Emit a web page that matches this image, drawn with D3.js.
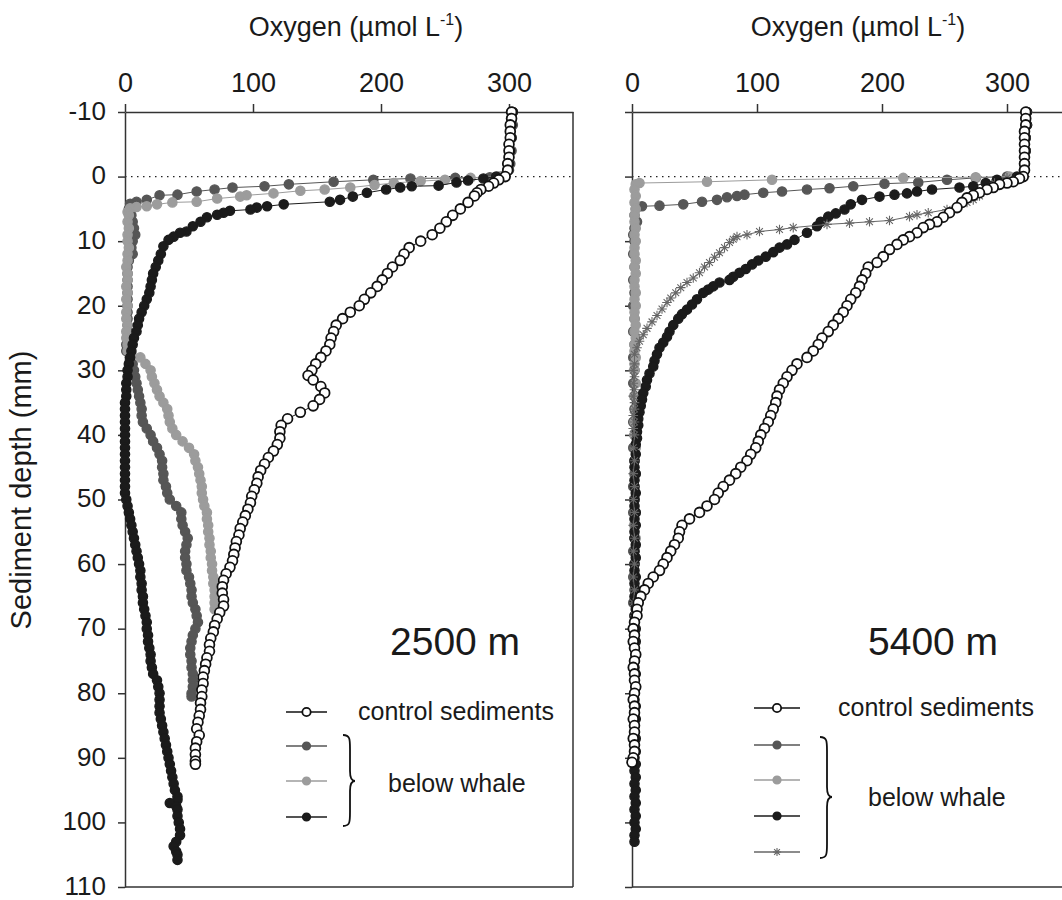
<!DOCTYPE html>
<html>
<head>
<meta charset="utf-8">
<title>Oxygen profiles</title>
<script src="https://d3js.org/d3.v7.min.js"></script>
<style>
  body { margin: 0; background: #fff; }
  text { font-family: "Liberation Sans", Arial, sans-serif; fill: #1a1a1a; }
</style>
</head>
<body>
<svg width="1062" height="900"></svg>
<script>

// [depth mm, oxygen umol/L]
var leftControl = [[-10,302],[-9,302],[-8,301],[-7,301],[-6,301],[-5,300],[-4,300],[-3,300],[-2,299],[-1,299],[0,297],[0.5,292],[1,288],[1.5,284],[2,278],[2.5,275],[3,273],[4,268],[5,262],[6,256],[7,251],[8,246],[9,240],[10,231],[11,222],[12,218],[13,215],[14,209],[15,205],[16,201],[17,197],[18,192],[19,187],[20,183],[21,176],[22,170],[23,165],[24,163],[25,161],[26,160],[27,157],[28,153],[29,149],[30,146],[30.8,143],[31.5,147],[32.5,153],[33.5,156],[34.5,152],[35.5,147],[36.5,137],[37.5,127],[38.5,122],[39.5,121],[40.5,121],[41.5,119],[42.5,116],[43.5,112],[44.5,109],[45.5,106],[46.5,104],[47.5,103],[48.5,101],[49.5,99],[50.5,98],[51.5,96],[52.5,94],[53.5,92],[54.5,90],[55.5,89],[56.5,87],[57.5,86],[58.5,85],[59.5,84],[60.5,82],[61.5,79],[62.5,77],[63.5,76],[64.5,76],[65.5,77],[66.5,77],[67.5,74],[68.5,72],[69.5,70],[70.5,69],[71.5,67],[72.5,66],[73.5,66],[74.5,64],[75.5,63],[76.5,62],[77.5,61],[78.5,61],[79.5,60],[80.5,60],[81.5,59],[82.5,59],[83.5,58],[84.5,57],[85.5,56],[86.5,58],[87.5,56],[88.5,55],[89.5,55],[90.5,55],[91,55]];

var leftWhale1 = [[-10,303],[-8,303],[-6,302],[-4,302],[-2,301],[-1,300],[0,294],[0.1,285],[0.2,258],[0.3,223],[0.5,194],[0.8,163],[1.2,128],[1.5,109],[1.7,84],[2,70],[2.3,56],[2.8,41],[2.9,27],[3.6,17],[3.9,9],[4.2,4],[5,3],[6,5],[7,6],[8,7],[9,8],[10,6],[11,5],[12,6],[13,3],[14,2],[15,2],[16,2],[17,2],[18,2],[19,2],[20,2],[21,2],[22,2],[23,2],[24,2],[25,2],[26,1],[27,1],[28,4],[29,6],[30,7],[31,8],[32,9],[33,10],[34,11],[35,12],[36,13],[37,13],[38,14],[39,17],[40,20],[41,22],[42,25],[43,27],[44,29],[45,29],[46,30],[47,30],[48,32],[49,33],[50,35],[51,40],[52,44],[53,44],[54,45],[55,47],[56,49],[57,48],[58,47],[59,47],[60,48],[61,48],[62,50],[63,51],[64,52],[65,52],[66,53],[67,55],[68,56],[69,57],[70,55],[71,53],[72,52],[73,51],[74,51],[75,52],[76,52],[77,53],[78,53],[79,53],[80,52],[80.5,52]];

var leftWhale2 = [[-10,303],[-8,302],[-6,302],[-4,301],[-2,300],[-1,299],[0,292],[0.2,270],[0.5,250],[0.7,231],[1,210],[1.3,195],[1.7,176],[2,156],[2.2,137],[2.6,116],[2.9,95],[3.1,90],[3.4,72],[3.9,56],[4,37],[4.3,25],[4.6,17],[4.7,9],[4.9,4],[5.5,2],[6,3],[7,2],[8,3],[9,2],[10,2],[11,3],[12,2],[13,2],[14,1],[15,2],[16,2],[17,1],[18,2],[19,1],[20,2],[21,1],[22,1],[23,2],[24,1],[25,1],[26,2],[27,2],[27.5,5],[28,12],[29,16],[30,20],[31,21],[32,23],[33,25],[34,27],[35,30],[36,33],[37,34],[38,35],[39,37],[40,40],[41,45],[42,50],[43,54],[44,55],[45,57],[46,58],[47,59],[48,60],[49,60],[50,61],[51,62],[52,64],[53,64],[54,65],[55,65],[56,66],[57,66],[58,67],[59,67],[60,68],[61,68],[62,69],[63,69],[64,70],[65,70],[66,70],[67,70]];

var leftWhale3 = [[-10,303],[-8,302],[-6,302],[-4,301],[-2,300],[-1,299],[0,290],[0.3,280],[0.6,268],[0.9,259],[1.4,245],[1.5,224],[1.7,215],[2,204],[2.5,189],[3.1,178],[3.6,168],[3.9,160],[4.3,124],[4.6,111],[4.8,103],[5.1,98],[5.3,82],[5.6,77],[5.9,72],[6.3,64],[7,59],[7.7,53],[8.5,48],[8.7,43],[9.3,38],[9.8,34],[10.8,30],[12,28],[13,26],[14,24],[15,22],[16,21],[17,20],[18,19],[19,17],[20,15],[21,13],[22,11],[23,10],[24,9],[25,7],[26,6],[27,5],[28,4],[29,3],[30,2],[31,2],[32,1],[33,1],[34,1],[35,0],[36,0],[37,0],[38,0],[39,0],[40,0],[41,0],[42,0],[43,0],[44,0],[45,0],[46,0],[47,0],[48,0],[49,0],[50,1],[51,2],[52,3],[53,4],[54,5],[55,6],[56,7],[57,8],[58,9],[59,10],[60,11],[61,12],[62,12],[63,13],[64,13],[65,14],[66,14],[67,15],[68,16],[69,17],[70,17],[71,18],[72,18],[73,19],[74,20],[75,20],[76,21],[77,22],[78,25],[79,26],[80,27],[81,27],[82,27],[83,27],[84,28],[85,29],[86,30],[87,31],[88,32],[89,33],[90,34],[91,35],[92,36],[93,37],[94,38],[95,39],[96,41],[96.5,41],[97,35],[97.5,40],[98,41],[99,41],[100,42],[101,43],[102,43],[103,40],[103.7,38],[104.5,40],[105,41],[105.8,41]];

var rightControl = [[-10,315],[-9,315],[-8,315],[-7,314],[-6,314],[-5,314],[-4,314],[-3,314],[-2,314],[-1,314],[0,313],[0.3,310],[0.8,305],[1,300],[1.2,294],[1.7,289],[2,284],[2.5,278],[2.9,273],[3.3,268],[4,264],[4.8,260],[5.6,254],[6.3,249],[7,244],[7.4,238],[7.9,233],[8.7,228],[9.3,222],[9.8,217],[10.5,212],[11.3,206],[12.4,201],[13.3,196],[14,189],[15,187],[16,184],[17,182],[18,179],[19,175],[20,172],[21,169],[22,165],[23,161],[24,157],[25,152],[26,149],[27,145],[28,140],[29,132],[30,128],[31,124],[32,121],[33,118],[34,116],[35,115],[36,113],[37,111],[38,109],[39,106],[40,103],[41,101],[42,99],[43,95],[44,92],[45,87],[46,83],[47,78],[48,73],[49,69],[50,66],[51,60],[52,54],[53,46],[54,40],[55,38],[56,37],[57,34],[58,31],[59,28],[60,25],[61,22],[62,17],[63,13],[64,10],[65,7],[66,5],[67,4],[68,4],[69,2],[70,1],[71,2],[72,1],[73,2],[74,3],[75,2],[76,1],[77,2],[78,2],[79,3],[80,2],[81,1],[82,2],[83,2],[84,1],[85,2],[86,2],[87,1],[88,2],[89,2],[90,1],[90.7,0]];

var rightWhale1 = [[-10,316],[-8,316],[-6,315],[-4,315],[-2,314],[-1,314],[0,300],[0.2,275],[0.5,252],[0.9,229],[1.1,202],[1.5,177],[1.8,158],[2,140],[2.3,120],[2.5,105],[2.8,90],[3,84],[3.2,76],[3.6,68],[3.9,56],[4.3,41],[4.5,22],[4.6,8],[5,3],[6,2],[7,4],[8,2],[9,1],[10,2],[12,1],[14,2],[16,1],[18,2],[20,1],[22,2],[24,1],[26,2],[28,1],[30,2],[32,1],[34,2],[36,2],[38,1],[40,2],[42,1],[44,2],[46,2],[48,1],[50,2],[52,1],[54,2],[56,2],[58,1],[60,2],[62,1],[64,2],[66,1],[68,2],[70,1]];

var rightWhale2 = [[-10,316],[-8,316],[-6,315],[-4,315],[-2,314],[-1,314],[0,302],[0.1,275],[0.2,217],[0.5,112],[0.8,60],[1,6],[1.2,3],[2,2],[3,3],[4,2],[5,3],[6,2],[7,2],[8,3],[9,2],[10,3],[11,2],[12,2],[13,3],[14,2],[15,3],[16,2],[17,2],[18,3],[19,2],[20,3],[21,2],[22,2],[23,3],[24,2],[25,3],[26,2],[27,2],[28,3],[29,2],[30,2],[32,3],[34,2],[36,3],[38,2],[40,2],[42,3],[44,2],[46,3],[48,2],[50,2],[52,3],[54,2],[56,3],[58,2],[60,2]];

var rightWhale3 = [[-10,316],[-8,316],[-6,315],[-4,315],[-2,314],[-1,314],[0,308],[0.5,292],[1,283],[1.5,273],[1.7,262],[2,240],[2.3,228],[2.6,220],[2.8,210],[3.1,198],[3.6,184],[4.3,175],[5.1,170],[5.7,163],[6.2,157],[7,151],[7.7,148],[8.7,140],[9.8,130],[10.5,124],[11,118],[11.7,113],[12.4,107],[13,101],[13.6,96],[14.3,91],[14.9,86],[15.5,81],[16,78],[16.4,70],[17,65],[17.5,61],[18,57],[19,52],[19.8,48],[20.6,44],[21.3,40],[22,37],[23,33],[24,30],[24.8,28],[25.7,25],[26.5,22],[27.5,20],[28.5,18],[29.4,17],[30.5,14],[31.5,12],[32.5,11],[33.5,9],[34.5,8],[35.5,7],[36.5,6],[37.5,5],[38.5,5],[39.5,4],[40.5,4],[41.5,3],[43,3],[44,2],[45,2],[46,3],[47,2],[48,2],[49,3],[50,2],[51,2],[52,3],[53,2],[54,3],[55,2],[56,2],[57,3],[58,2],[59,3],[60,2],[61,2],[62,3],[63,2],[64,3],[65,2],[66,2],[67,3],[68,2],[69,2],[70,3],[71,2],[72,3],[73,2],[74,3],[75,2],[76,2],[77,3],[78,2],[79,3],[80,2],[81,2],[82,3],[83,2],[84,3],[85,2],[86,2],[87,3],[88,2],[89,3],[90,2],[91,3],[92,2],[93,3],[94,2],[95,3],[96,2],[97,3],[98,2],[99,3],[100,2],[101,3],[102,2],[103,2]];

var rightWhale4 = [[-10,316],[-8,316],[-6,315],[-4,315],[-2,314],[-1,313],[0,312],[0.2,300],[1,290],[2,283],[3,278],[3.6,273],[4,268],[4.3,262],[5.1,252],[5.6,237],[5.9,228],[6.2,222],[6.8,206],[7,190],[7.2,174],[7.4,156],[7.9,129],[8.2,118],[8.5,102],[9,92],[9.3,84],[9.7,81],[10.2,78],[11,74],[11.8,70],[12.5,66],[13.3,62],[14,58],[14.9,54],[15.7,49],[16.4,44],[17.2,39],[18,35],[18.8,31],[19.5,28],[20.5,24],[21.5,20],[22.5,16],[23.5,12],[24.5,9],[25.5,6],[26.5,4],[27.5,2],[29,2],[30,1],[31,2],[32,1],[33,2],[34,1],[35,2],[36,2],[37,1],[38,2],[39,1],[40,2],[42,1],[44,2],[46,1],[48,2],[50,1],[52,2],[54,1],[56,2],[58,1],[60,2],[62,1],[64,2],[66,1],[68,2],[70,1]];

var xTicks = [0, 100, 200, 300];
var yTicks = [-10, 0, 10, 20, 30, 40, 50, 60, 70, 80, 90, 100, 110];
var siteLabels = ["2500 m", "5400 m"];
var legendTexts = ["control sediments", "below whale"];

var svg = d3.select("svg");

var styles = {
  control: {stroke: "#111", fill: "#fff", sym: "circle"},
  w1: {stroke: "#565656", fill: "#565656", sym: "dot"},
  w2: {stroke: "#9c9c9c", fill: "#9c9c9c", sym: "dot"},
  w3: {stroke: "#1b1b1b", fill: "#1b1b1b", sym: "dot"},
  w4: {stroke: "#666", fill: "none", sym: "star"}
};

var y = d3.scaleLinear().domain([-10, 110]).range([112, 887]);

var panels = [
  {
    x: d3.scaleLinear().domain([0, 350]).range([125, 573]),
    series: [["w1", leftWhale1], ["w2", leftWhale2], ["w3", leftWhale3], ["control", leftControl]],
    legend: ["control", "w1", "w2", "w3"],
    yLabels: true, rightBorder: true,
    title: 356, site: [390, 655],
    leg: {x0: 286, x1: 327, rows: [712, 746, 781, 817], tx: 358, ty: 720,
          brace: [343, 735, 826, 781], bx: 388, by: 792}
  },
  {
    x: d3.scaleLinear().domain([0, 350]).range([632, 1069.5]),
    series: [["w1", rightWhale1], ["w2", rightWhale2], ["w3", rightWhale3], ["w4", rightWhale4], ["control", rightControl]],
    legend: ["control", "w1", "w2", "w3", "w4"],
    yLabels: false, rightBorder: false,
    title: 858, site: [868, 655],
    leg: {x0: 754, x1: 800, rows: [708, 745, 780, 816, 852], tx: 838, ty: 716,
          brace: [820, 737, 858, 797], bx: 868, by: 806}
  }
];

function marker(g, key, cx, cy, k) {
  var s = styles[key];
  if (s.sym === "circle") {
    g.append("circle").attr("cx", cx).attr("cy", cy).attr("r", 4.9 * k)
      .attr("fill", "#fff").attr("stroke", s.stroke).attr("stroke-width", 1.8);
  } else if (s.sym === "dot") {
    g.append("circle").attr("cx", cx).attr("cy", cy).attr("r", 4.6 * k)
      .attr("fill", s.fill).attr("stroke", s.stroke).attr("stroke-width", 1.4);
  } else {
    var a = 4.8 * k, c = 3.4 * k;
    g.append("path").attr("transform", "translate(" + cx + "," + cy + ")")
      .attr("d", "M" + (-a) + ",0H" + a + "M0," + (-a) + "V" + a +
        "M" + (-c) + "," + (-c) + "L" + c + "," + c + "M" + (-c) + "," + c + "L" + c + "," + (-c))
      .attr("stroke", s.stroke).attr("stroke-width", 1.1).attr("fill", "none");
  }
}

panels.forEach(function(p, pi) {
  var x = p.x;
  var g = svg.append("g");

  // frame
  if (p.rightBorder) {
    g.append("line").attr("x1", x.range()[1]).attr("x2", x.range()[1])
      .attr("y1", y(-10)).attr("y2", y(110)).attr("stroke", "#333").attr("stroke-width", 1.5);
  }
  g.append("line").attr("x1", x.range()[0]).attr("x2", x.range()[1])
    .attr("y1", y(110)).attr("y2", y(110)).attr("stroke", "#333").attr("stroke-width", 1.5);

  // sediment surface
  g.append("line").attr("x1", x.range()[0]).attr("x2", x.range()[1])
    .attr("y1", y(0)).attr("y2", y(0))
    .attr("stroke", "#222").attr("stroke-width", 1.2).attr("stroke-dasharray", "1.5,4.5");

  var xAxis = g.append("g").attr("transform", "translate(0," + y(-10) + ")")
    .call(d3.axisTop(x).tickValues(xTicks).tickSize(8).tickSizeOuter(0).tickPadding(12));
  var yAxis = g.append("g").attr("transform", "translate(" + x.range()[0] + ",0)")
    .call(d3.axisLeft(y).tickValues(yTicks).tickSize(7).tickSizeOuter(0).tickPadding(12)
      .tickFormat(p.yLabels ? function(d) { return String(d); } : function() { return ""; }));
  [xAxis, yAxis].forEach(function(a) {
    a.selectAll("path, line").attr("stroke", "#333").attr("stroke-width", 1.5);
    a.selectAll("text").attr("font-size", 27).attr("fill", "#1a1a1a")
      .style("font-family", '"Liberation Sans", Arial, sans-serif');
  });
  yAxis.selectAll("text").attr("font-size", 26).attr("dy", "0.28em");

  // profiles
  var line = d3.line().x(function(d) { return x(d[1]); }).y(function(d) { return y(d[0]); });
  p.series.forEach(function(s) {
    var st = styles[s[0]];
    g.append("path").datum(s[1]).attr("d", line)
      .attr("fill", "none").attr("stroke", st.stroke).attr("stroke-width", 1);
    var mg = g.append("g");
    s[1].forEach(function(d) { marker(mg, s[0], x(d[1]), y(d[0]), 1); });
  });

  // titles
  var t = g.append("text").attr("x", p.title).attr("y", 36)
    .attr("text-anchor", "middle").attr("font-size", 27);
  t.append("tspan").text("Oxygen (\u00b5mol L");
  t.append("tspan").attr("font-size", 16).attr("dy", -11).text("-1");
  t.append("tspan").attr("dy", 11).text(")");

  g.append("text").attr("x", p.site[0]).attr("y", p.site[1])
    .attr("font-size", 39).text(siteLabels[pi]);

  // legend
  var L = p.leg;
  p.legend.forEach(function(key, i) {
    var yy = L.rows[i];
    g.append("line").attr("x1", L.x0).attr("x2", L.x1).attr("y1", yy).attr("y2", yy)
      .attr("stroke", styles[key].stroke).attr("stroke-width", 1.4);
    marker(g, key, (L.x0 + L.x1) / 2, yy, 0.85);
  });
  g.append("text").attr("x", L.tx).attr("y", L.ty).attr("font-size", 25).text(legendTexts[0]);
  g.append("text").attr("x", L.bx).attr("y", L.by).attr("font-size", 25).text(legendTexts[1]);
  var b = L.brace, bx = b[0], top = b[1], bot = b[2], mid = b[3];
  g.append("path")
    .attr("d", "M" + bx + "," + top +
      "C" + (bx + 7) + "," + top + " " + (bx + 7) + "," + (top + 4) + " " + (bx + 7) + "," + (top + 14) +
      "L" + (bx + 7) + "," + (mid - 10) +
      "C" + (bx + 7) + "," + (mid - 3) + " " + (bx + 9) + "," + mid + " " + (bx + 12) + "," + mid +
      "C" + (bx + 9) + "," + mid + " " + (bx + 7) + "," + (mid + 3) + " " + (bx + 7) + "," + (mid + 10) +
      "L" + (bx + 7) + "," + (bot - 14) +
      "C" + (bx + 7) + "," + (bot - 4) + " " + (bx + 7) + "," + bot + " " + bx + "," + bot)
    .attr("fill", "none").attr("stroke", "#111").attr("stroke-width", 1.8);
});

// y axis title
svg.append("text").attr("transform", "translate(31,490) rotate(-90)")
  .attr("text-anchor", "middle").attr("font-size", 29).text("Sediment depth (mm)");

</script>
</body>
</html>
